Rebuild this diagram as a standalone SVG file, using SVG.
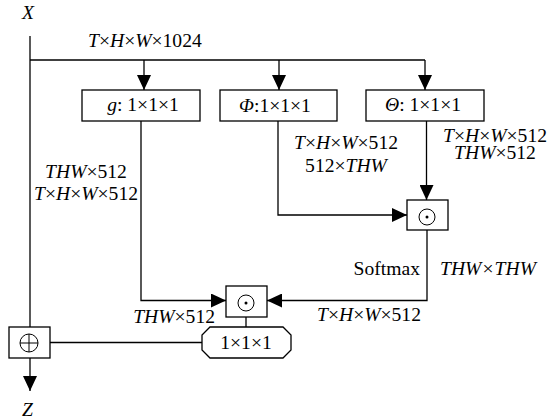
<svg xmlns="http://www.w3.org/2000/svg" width="547" height="420" viewBox="0 0 547 420">
<style>
text{font-family:"Liberation Serif","Times New Roman",serif;font-size:19.6px;fill:#000}
.i{font-style:italic}
.c{text-anchor:middle}
.e{text-anchor:end}
.box{fill:#fff;stroke:#000;stroke-width:1.3}
.ln{fill:none;stroke:#000;stroke-width:1.3}
.sym{fill:none;stroke:#000;stroke-width:1}
</style>
<defs>
<marker id="ah" markerUnits="userSpaceOnUse" markerWidth="15" markerHeight="14" refX="15" refY="7" orient="auto">
<path d="M0,0 L15,7 L0,14 Z" fill="#000"/>
</marker>
</defs>
<g id="connectors">
<path class="ln" d="M30,36 V327"/>
<path class="ln" d="M30,60 H425"/>
<path class="ln" d="M144,60 V90" marker-end="url(#ah)"/>
<path class="ln" d="M279,60 V90" marker-end="url(#ah)"/>
<path class="ln" d="M425,60 V90" marker-end="url(#ah)"/>
<path class="ln" d="M141,121 V300.5 H226" marker-end="url(#ah)"/>
<path class="ln" d="M278,121 V215 H407" marker-end="url(#ah)"/>
<path class="ln" d="M426.5,121 V200" marker-end="url(#ah)"/>
<path class="ln" d="M427,230 V300.5 H267" marker-end="url(#ah)"/>
<path class="ln" d="M246,317 V327"/>
<path class="ln" d="M202,342.5 H44"/>
<path class="ln" d="M30,358 V391" marker-end="url(#ah)"/>
</g>
<g id="input-X"><text class="i" x="22" y="19">X</text></g>
<g id="output-Z"><text class="i" x="22" y="416">Z</text></g>
<g id="label-1024"><text x="88" y="47"><tspan class="i">T</tspan>×<tspan class="i">H</tspan>×<tspan class="i">W</tspan>×1024</text></g>
<g id="node-g">
<rect class="box" x="82" y="90" width="118" height="31"/>
<text class="c" x="143" y="111"><tspan class="i">g</tspan>: 1×1×1</text>
</g>
<g id="node-phi">
<rect class="box" x="220" y="90" width="117" height="31"/>
<text class="c" x="275" y="112"><tspan class="i">Φ</tspan>:1×1×1</text>
</g>
<g id="node-theta">
<rect class="box" x="366" y="90" width="118" height="31"/>
<text class="c" x="423" y="111"><tspan class="i">Θ</tspan>: 1×1×1</text>
</g>
<g id="labels-g">
<text class="c" x="86" y="178"><tspan class="i">THW</tspan>×512</text>
<text class="c" x="86" y="200"><tspan class="i">T</tspan>×<tspan class="i">H</tspan>×<tspan class="i">W</tspan>×512</text>
</g>
<g id="labels-phi">
<text class="c" x="346" y="149"><tspan class="i">T</tspan>×<tspan class="i">H</tspan>×<tspan class="i">W</tspan>×512</text>
<text class="c" x="346" y="172">512×<tspan class="i">THW</tspan></text>
</g>
<g id="labels-theta">
<text class="c" x="495" y="142"><tspan class="i">T</tspan>×<tspan class="i">H</tspan>×<tspan class="i">W</tspan>×512</text>
<text class="c" x="495" y="159"><tspan class="i">THW</tspan>×512</text>
</g>
<g id="node-dot1">
<rect class="box" x="407" y="200" width="41" height="30"/>
<circle class="sym" cx="427" cy="217" r="8"/>
<circle cx="427" cy="217" r="1.5" fill="#000"/>
</g>
<g id="labels-softmax">
<text class="e" x="420" y="275">Softmax</text>
<text class="i" x="440" y="275">THW×THW</text>
<text x="317" y="321"><tspan class="i">T</tspan>×<tspan class="i">H</tspan>×<tspan class="i">W</tspan>×512</text>
</g>
<g id="node-dot2">
<rect class="box" x="226" y="286" width="41" height="31"/>
<circle class="sym" cx="246" cy="303" r="8"/>
<circle cx="246" cy="303" r="1.5" fill="#000"/>
</g>
<g id="label-thw512"><text class="e" x="215" y="323"><tspan class="i">THW</tspan>×512</text></g>
<g id="node-conv">
<path class="box" d="M210,327 H283 L291,335 V350 L283,358 H210 L202,350 V335 Z"/>
<text class="c" x="246" y="349">1×1×1</text>
</g>
<g id="node-add">
<rect class="box" x="9" y="327" width="41" height="31"/>
<circle class="sym" cx="29" cy="343" r="9"/>
<path class="sym" d="M20,343 H38 M29,334 V352"/>
</g>
</svg>
